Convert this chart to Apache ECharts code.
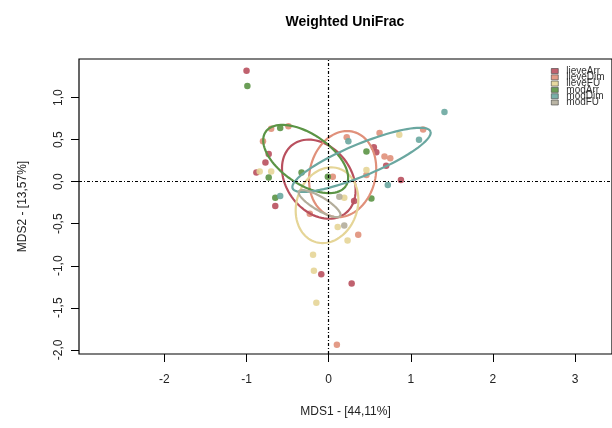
<!DOCTYPE html>
<html>
<head>
<meta charset="utf-8">
<script src="https://cdn.jsdelivr.net/npm/echarts@6/dist/echarts.min.js"></script>
<style>
  html, body { margin: 0; padding: 0; background: #fff; }
  #chart { width: 612px; height: 428px; }
</style>
</head>
<body>
<div id="chart"></div>
<script>
// groups, legend order
var groups = ['lieveArr', 'lieveDim', 'lieveFU', 'modArr', 'modDim', 'modFU'];
var groupColors = ['#b9505e', '#e0907a', '#e5d597', '#5b9445', '#6aa7a0', '#b3ad9b'];

// MDS1 / MDS2 scores per sample
var lieveArr = [[-1.00, 1.32], [-0.73, 0.33], [-0.77, 0.23], [-0.88, 0.11], [-0.65, -0.29], [0.55, 0.41],
  [0.58, 0.35], [0.70, 0.19], [0.88, 0.02], [0.31, -0.23], [-0.09, -1.10], [0.28, -1.21]];
var lieveDim = [[-0.70, 0.63], [-0.49, 0.66], [-0.80, 0.48], [0.05, 0.06], [0.22, 0.53], [0.62, 0.58],
  [1.15, 0.62], [0.68, 0.30], [0.75, 0.28], [0.46, 0.08], [-0.23, -0.38], [0.36, -0.63], [0.10, -1.94]];
var lieveFU = [[-0.84, 0.12], [-0.70, 0.12], [0.86, 0.56], [0.46, 0.14], [0.19, -0.19], [0.11, -0.54],
  [0.23, -0.70], [-0.19, -0.87], [-0.18, -1.06], [-0.15, -1.44]];
var modArr = [[-0.99, 1.14], [-0.59, 0.64], [-0.73, 0.05], [-0.33, 0.11], [-0.01, 0.06], [-0.65, -0.19],
  [0.46, 0.36], [0.52, -0.20]];
var modDim = [[1.41, 0.83], [1.10, 0.50], [0.24, 0.48], [0.72, -0.04], [-0.59, -0.17]];
var modFU = [[0.13, -0.18], [0.19, -0.52]];
var groupPoints = [lieveArr, lieveDim, lieveFU, modArr, modDim, modFU];

// group ellipses: centre, semi axes, rotation in degrees
var ellCenter = [[-0.12, 0.03], [0.17, 0.09], [-0.02, -0.28], [-0.28, 0.27], [0.40, 0.26], [-0.11, -0.26]];
var ellAxes = [[0.52, 0.39], [0.52, 0.40], [0.46, 0.37], [0.585, 0.30], [0.905, 0.19], [0.29, 0.08]];
var ellAngle = [-50, 75, 70, -33, 22, -30];

var xTicks = [-2, -1, 0, 1, 2, 3];
var yTicks = [-2, -1.5, -1, -0.5, 0, 0.5, 1];

var chart = echarts.init(document.getElementById('chart'));

function ellipseItem(params, api) {
  var cx = api.value(0), cy = api.value(1);
  var a = api.value(2), b = api.value(3);
  var t = api.value(4) * Math.PI / 180;
  var pts = [];
  for (var k = 0; k <= 90; k++) {
    var u = k / 90 * 2 * Math.PI;
    var x = cx + a * Math.cos(u) * Math.cos(t) - b * Math.sin(u) * Math.sin(t);
    var y = cy + a * Math.cos(u) * Math.sin(t) + b * Math.sin(u) * Math.cos(t);
    pts.push(api.coord([x, y]));
  }
  return {
    type: 'polyline',
    shape: { points: pts },
    style: { stroke: api.visual('color'), fill: null, lineWidth: 2.2 }
  };
}

var series = [];
groups.forEach(function (g, i) {
  series.push({
    name: g,
    type: 'scatter',
    data: groupPoints[i],
    symbolSize: 6.5,
    itemStyle: { color: groupColors[i], opacity: 0.9 },
    z: 2
  });
});
groups.forEach(function (g, i) {
  series.push({
    name: g,
    type: 'custom',
    renderItem: ellipseItem,
    data: [[ellCenter[i][0], ellCenter[i][1], ellAxes[i][0], ellAxes[i][1], ellAngle[i]]],
    encode: { x: 0, y: 1 },
    itemStyle: { color: groupColors[i] },
    z: 3
  });
});
// dotted cross through the origin
series[0].markLine = {
  silent: true,
  symbol: 'none',
  label: { show: false },
  lineStyle: { color: '#000', type: [3, 2, 1, 2], width: 1.2 },
  data: [{ xAxis: 0 }, { yAxis: 0 }]
};

var option = {
  animation: false,
  backgroundColor: '#fff',
  textStyle: { fontFamily: 'Liberation Sans' },
  title: {
    text: 'Weighted UniFrac',
    left: 345,
    textAlign: 'center',
    top: 15,
    padding: 0,
    textStyle: { fontSize: 14, fontWeight: 'bold', color: '#000', fontFamily: 'Liberation Sans' }
  },
  legend: {
    data: groups.map(function (g) { return { name: g, icon: 'rect' }; }),
    orient: 'vertical',
    left: 551,
    top: 66,
    padding: 0,
    itemWidth: 7,
    itemHeight: 5,
    itemGap: -3.7,
    itemStyle: { borderColor: '#333', borderWidth: 0.6 },
    textStyle: { fontSize: 10, color: '#333', padding: [0, 0, 0, 3] },
    selectedMode: false
  },
  grid: {
    left: 79, top: 59, right: -5, bottom: 74,
    show: true, borderColor: '#000', borderWidth: 1.2, backgroundColor: 'transparent'
  },
  xAxis: {
    type: 'value',
    min: -3.04, max: 3.45,
    name: 'MDS1 - [44,11%]',
    nameLocation: 'middle',
    nameGap: 52,
    nameTextStyle: { fontSize: 12, color: '#222' },
    axisLine: { show: false, onZero: false },
    splitLine: { show: false },
    axisTick: { show: true, customValues: xTicks, length: 8, inside: false, lineStyle: { color: '#000' } },
    axisLabel: { customValues: xTicks, margin: 20, fontSize: 12, color: '#222' }
  },
  yAxis: {
    type: 'value',
    min: -2.05, max: 1.46,
    name: 'MDS2 - [13,57%]',
    nameLocation: 'middle',
    nameGap: 50,
    nameTextStyle: { fontSize: 12, color: '#222' },
    axisLine: { show: false, onZero: false },
    splitLine: { show: false },
    axisTick: { show: true, customValues: yTicks, length: 8, inside: false, lineStyle: { color: '#000' } },
    axisLabel: {
      customValues: yTicks, margin: 14, fontSize: 12, color: '#222', rotate: 90,
      formatter: function (v) { return v.toFixed(1).replace('.', ','); }
    }
  },
  series: series
};
chart.setOption(option);
</script>
</body>
</html>
